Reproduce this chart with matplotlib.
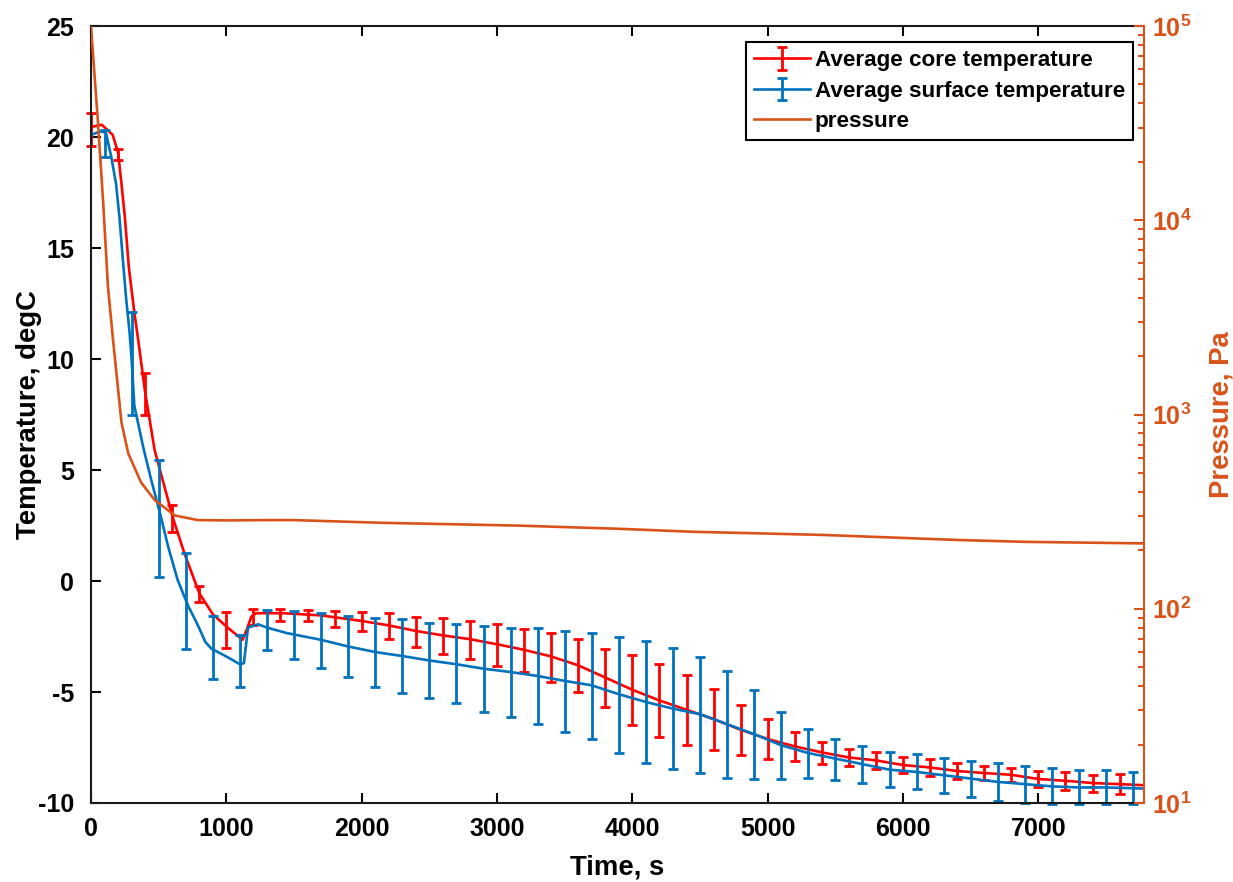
import numpy as np
import matplotlib.pyplot as plt
from matplotlib.legend_handler import HandlerTuple
from matplotlib.ticker import LogLocator, FuncFormatter, NullFormatter

plt.rcParams['font.family'] = ['Liberation Sans', 'DejaVu Sans']
plt.rcParams['font.weight'] = 'bold'
plt.rcParams['axes.labelweight'] = 'bold'
plt.rcParams['axes.unicode_minus'] = False
plt.rcParams['mathtext.fontset'] = 'custom'
plt.rcParams['mathtext.rm'] = 'Liberation Sans:bold'
plt.rcParams['mathtext.bf'] = 'Liberation Sans:bold'
plt.rcParams['mathtext.it'] = 'Liberation Sans:bold'

RED = '#FF0000'
BLUE = '#0072BD'
ORANGE = '#D95319'

# --- average core temperature (line) ---
core_t = [0, 80, 160, 200, 225, 250, 280, 320, 350, 400, 470, 545, 605, 690, 800,
          900, 1010, 1120, 1150, 1185, 1220, 1420, 1700, 2000, 2200, 2400, 2600,
          2800, 3000, 3200, 3400, 3600, 3800, 4000, 4200, 4400, 4600, 4800, 5000,
          5200, 5400, 5600, 5800, 6000, 6200, 6400, 6600, 6800, 7000, 7200, 7400,
          7600, 7780]
core_T = [20.45, 20.55, 20.1, 19.3, 17.9, 16.4, 14.1, 12.1, 10.8, 8.5, 5.9, 4.2,
          2.85, 1.25, -0.55, -1.5, -2.1, -2.65, -2.2, -1.6, -1.45, -1.45, -1.55,
          -1.8, -2.0, -2.25, -2.45, -2.62, -2.85, -3.1, -3.4, -3.8, -4.35, -4.9,
          -5.38, -5.8, -6.22, -6.7, -7.12, -7.45, -7.72, -7.95, -8.08, -8.29, -8.4,
          -8.56, -8.65, -8.73, -8.92, -9.0, -9.1, -9.15, -9.2]

# core error bars (every 200 s): lower / upper ends
core_bar_t = [0, 200, 400, 600, 800, 1000, 1200, 1400, 1600, 1800, 2000, 2200,
              2400, 2600, 2800, 3000, 3200, 3400, 3600, 3800, 4000, 4200, 4400,
              4600, 4800, 5000, 5200, 5400, 5600, 5800, 6000, 6200, 6400, 6600,
              6800, 7000, 7200, 7400, 7600]
core_bar_lo = [19.6, 18.95, 7.48, 2.21, -0.95, -3.0, -1.98, -1.8, -1.8, -2.07,
               -2.25, -2.61, -2.97, -3.29, -3.5, -3.83, -4.1, -4.55, -5.0, -5.68,
               -6.49, -7.03, -7.39, -7.61, -7.84, -8.02, -8.1, -8.24, -8.33, -8.47,
               -8.65, -8.78, -8.92, -8.96, -9.05, -9.28, -9.41, -9.5, -9.6]
core_bar_hi = [21.1, 19.45, 9.37, 3.42, -0.23, -1.4, -1.26, -1.26, -1.3, -1.35,
               -1.4, -1.44, -1.62, -1.67, -1.8, -1.94, -2.16, -2.33, -2.6, -3.06,
               -3.33, -3.74, -4.23, -4.86, -5.59, -6.22, -6.8, -7.25, -7.57, -7.7,
               -7.93, -8.02, -8.2, -8.33, -8.42, -8.56, -8.6, -8.74, -8.7]

# --- average surface temperature (line) ---
surf_t = [0, 70, 110, 150, 185, 210, 235, 260, 285, 300, 320, 385, 445, 510, 570,
          640, 720, 770, 805, 845, 890, 1000, 1100, 1130, 1160, 1235, 1300, 1450,
          1700, 1900, 2100, 2300, 2500, 2700, 2900, 3100, 3300, 3500, 3700, 3900,
          4100, 4300, 4500, 4700, 4900, 5100, 5300, 5500, 5700, 5900, 6100, 6300,
          6500, 6700, 6900, 7100, 7300, 7500, 7780]
surf_T = [20.1, 20.25, 20.2, 19.1, 17.9, 16.4, 14.5, 12.7, 11.2, 10.0, 7.9, 6.05,
          4.55, 3.05, 1.55, 0.05, -1.15, -1.75, -2.2, -2.75, -3.05, -3.4, -3.75,
          -3.7, -2.1, -1.95, -2.1, -2.35, -2.65, -2.95, -3.2, -3.38, -3.58, -3.75,
          -3.95, -4.1, -4.28, -4.5, -4.7, -5.1, -5.45, -5.75, -6.0, -6.45, -6.9,
          -7.4, -7.75, -8.0, -8.25, -8.5, -8.6, -8.75, -8.9, -9.05, -9.15, -9.25,
          -9.3, -9.3, -9.35]

# surface error bars (every 200 s, offset 100 s)
surf_bar_t = [100, 300, 500, 700, 900, 1100, 1300, 1500, 1700, 1900, 2100, 2300,
              2500, 2700, 2900, 3100, 3300, 3500, 3700, 3900, 4100, 4300, 4500,
              4700, 4900, 5100, 5300, 5500, 5700, 5900, 6100, 6300, 6500, 6700,
              6900, 7100, 7300, 7500, 7700]
surf_bar_lo = [19.1, 7.5, 0.18, -3.06, -4.41, -4.77, -3.1, -3.5, -3.9, -4.32,
               -4.77, -5.05, -5.27, -5.5, -5.9, -6.13, -6.44, -6.8, -7.12, -7.75,
               -8.2, -8.47, -8.65, -8.87, -8.92, -8.92, -8.87, -8.96, -9.1, -9.28,
               -9.37, -9.55, -9.73, -9.9, -10.0, -10.05, -10.05, -10.05, -10.05]
surf_bar_hi = [20.3, 12.1, 5.45, 1.26, -1.58, -2.43, -1.3, -1.35, -1.44, -1.58,
               -1.67, -1.7, -1.88, -1.95, -2.03, -2.12, -2.12, -2.25, -2.34, -2.52,
               -2.7, -3.0, -3.42, -4.05, -4.9, -5.9, -6.67, -7.1, -7.43, -7.7,
               -7.8, -7.97, -8.1, -8.2, -8.33, -8.42, -8.5, -8.5, -8.6]

# --- chamber pressure, Pa ---
press_t = [0, 50, 90, 125, 165, 200, 225, 275, 370, 470, 620, 790, 1000, 1300,
           1500, 2150, 3150, 3900, 4450, 5400, 6400, 6900, 7780]
press_Pa = [99000, 33100, 12300, 4570, 2340, 1350, 912, 631, 447, 363, 302, 286,
            285, 286, 286, 277, 268, 258, 249, 240, 226, 221, 217]

labels = ['Average core temperature', 'Average surface temperature', 'pressure']

TICK_FS = 18
LABEL_FS = 19.8
LEG_FS = 16.2


def bars(lo, hi):
    lo = np.array(lo)
    hi = np.array(hi)
    return (lo + hi) / 2, (hi - lo) / 2


fig = plt.figure(figsize=(12.33, 8.82), dpi=100)
ax = fig.add_axes([91 / 1233, 1 - 803 / 882, 1053 / 1233, 777 / 882])
ax2 = ax.twinx()

# Temperaturas
coreLine, = ax.plot(core_t, core_T, color=RED, lw=1.9)
mid, half = bars(core_bar_lo, core_bar_hi)
coreBars = ax.errorbar(core_bar_t, mid, yerr=half, fmt='none', ecolor=RED,
                       elinewidth=2.0, capsize=3.6, capthick=2.0)
surfLine, = ax.plot(surf_t, surf_T, color=BLUE, lw=1.9)
mid, half = bars(surf_bar_lo, surf_bar_hi)
surfBars = ax.errorbar(surf_bar_t, mid, yerr=half, fmt='none', ecolor=BLUE,
                       elinewidth=2.0, capsize=3.6, capthick=2.0)
for c in (coreBars, surfBars):
    for art in c.lines[1] + c.lines[2]:
        art.set_clip_on(False)

# Presion en eje derecho
pressLine, = ax2.plot(press_t, press_Pa, color=ORANGE, lw=1.9)

ax.set_xlim(0, 7780)
ax.set_ylim(-10, 25)
ax.set_xticks(np.arange(0, 7001, 1000))
ax.set_yticks(np.arange(-10, 26, 5))
ax.tick_params(axis='both', direction='in', length=7.5, width=1.5,
               labelsize=TICK_FS, top=True, right=False, colors='black')
ax.tick_params(axis='x', pad=10)
ax.tick_params(axis='y', pad=12)
for s in ('left', 'top', 'bottom'):
    ax.spines[s].set_linewidth(1.5)
    ax.spines[s].set_color('#1a1a1a')
ax.spines['right'].set_visible(False)

ax2.set_yscale('log')
ax2.set_ylim(10, 1e5)
ax2.yaxis.set_major_locator(LogLocator(base=10, numticks=10))
ax2.yaxis.set_minor_locator(LogLocator(base=10, subs=np.arange(2, 10), numticks=50))
ax2.yaxis.set_major_formatter(FuncFormatter(lambda v, p: r'$10^{%d}$' % round(np.log10(v))))
ax2.yaxis.set_minor_formatter(NullFormatter())
ax2.tick_params(axis='y', which='major', direction='in', length=7.5, width=1.5,
                labelsize=TICK_FS, colors=ORANGE, pad=6)
ax2.tick_params(axis='y', which='minor', direction='in', length=4, width=1.5,
                colors=ORANGE)
for s in ('left', 'top', 'bottom'):
    ax2.spines[s].set_visible(False)
ax2.spines['right'].set_color(ORANGE)
ax2.spines['right'].set_linewidth(1.5)

ax.set_xlabel('Time, s', fontsize=LABEL_FS, labelpad=10)
ax.set_ylabel('Temperature, degC', fontsize=LABEL_FS, labelpad=-3)
ax2.set_ylabel('Pressure, Pa', fontsize=LABEL_FS, color=ORANGE, labelpad=12)

# linea y barra superpuestas en la leyenda
leg = ax2.legend([(coreLine, coreBars), (surfLine, surfBars), pressLine], labels,
                 handler_map={tuple: HandlerTuple(ndivide=1)},
                 loc='upper right', bbox_to_anchor=(0.9896, 0.979),
                 borderaxespad=0, fancybox=False, framealpha=1,
                 edgecolor='black', fontsize=LEG_FS, handlelength=2.5,
                 handletextpad=0.2, labelspacing=0.42, borderpad=0.35)
leg.get_frame().set_linewidth(1.5)

fig.savefig('out.png', dpi=100)
